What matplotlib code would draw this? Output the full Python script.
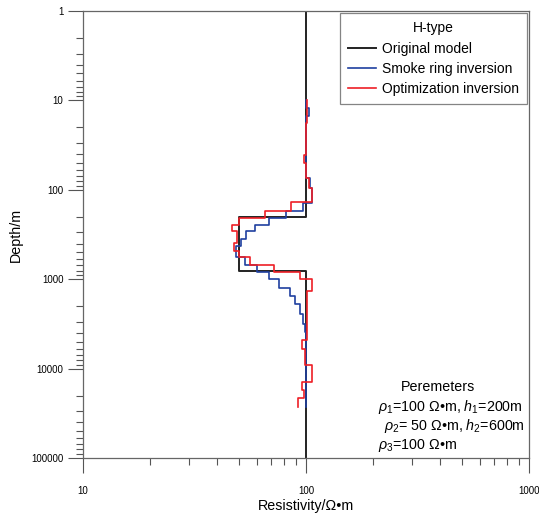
import numpy as np
import matplotlib.pyplot as plt
from matplotlib.ticker import LogLocator, FixedLocator, FixedFormatter, NullFormatter

plt.rcParams['font.family'] = ['Liberation Sans', 'DejaVu Sans']
plt.rcParams['mathtext.fontset'] = 'custom'
plt.rcParams['mathtext.rm'] = 'Liberation Sans'
plt.rcParams['mathtext.it'] = 'Liberation Sans:italic'

# layer boundaries (depth, m) and resistivity of each layer (ohm*m)
model_depth = [1, 200, 800, 100000]
model_rho = [100, 50, 100]

smoke_depth = [10, 12.3, 15, 73, 95, 140, 172, 206, 247, 289, 356, 425, 566,
               697, 834, 1000, 1260, 1560, 1900, 2480, 3140, 3850, 27000]
smoke_rho = [100, 103, 100, 104, 106, 97, 81, 68, 59, 54, 51, 48.5, 53,
             60, 68, 76, 85, 89, 94, 97, 99, 100]

optim_depth = [10, 18, 41, 50, 73, 95, 136, 172, 206, 247, 289, 394, 484, 566,
               697, 834, 1000, 1360, 4840, 5960, 9020, 14000, 17200, 21200, 26700]
optim_rho = [101, 100, 98, 100, 103, 106, 86, 65.5, 50, 46.5, 49, 47.5, 50,
             56, 72, 94, 106, 101, 96, 99, 106, 96, 98, 92]


def steps(depth, rho):
    d = np.asarray(depth, float)
    r = np.asarray(rho, float)
    y = np.repeat(d, 2)[1:-1]
    x = np.repeat(r, 2)
    return x, y


fig = plt.figure(figsize=(5.39, 5.13), dpi=100)
ax = fig.add_axes([83 / 539, 1 - 458 / 513, 446 / 539, 447 / 513])

x, y = steps(model_depth, model_rho)
ax.plot(x, y, color='#222222', lw=1.4, label='Original model', zorder=2)
x, y = steps(smoke_depth, smoke_rho)
ax.plot(x, y, color='#1f3f9f', lw=1.2, label='Smoke ring inversion', zorder=3)
x, y = steps(optim_depth, optim_rho)
ax.plot(x, y, color='#ee1f26', lw=1.2, label='Optimization inversion', zorder=4)

ax.set_xscale('log')
ax.set_yscale('log')
ax.set_xlim(10, 1000)
ax.set_ylim(100000, 1)

ax.xaxis.set_major_locator(FixedLocator([10, 100, 1000]))
ax.xaxis.set_major_formatter(FixedFormatter(['10', '100', '1000']))
ax.xaxis.set_minor_locator(LogLocator(base=10, subs=np.arange(2, 10)))
ax.xaxis.set_minor_formatter(NullFormatter())
ax.yaxis.set_major_locator(FixedLocator([1, 10, 100, 1000, 10000, 100000]))
ax.yaxis.set_major_formatter(FixedFormatter(['1', '10', '100', '1000', '10000', '100000']))
ax.yaxis.set_minor_locator(LogLocator(base=10, subs=np.arange(2, 10)))
ax.yaxis.set_minor_formatter(NullFormatter())

ax.tick_params(which='major', direction='out', length=11, width=0.8, color='#555555',
               labelsize=7, pad=3)
ax.tick_params(which='minor', direction='out', length=5, width=0.8, color='#555555')
ax.tick_params(axis='x', which='major', pad=9)
for s in ax.spines.values():
    s.set_color('#666666')
    s.set_linewidth(0.9)

ax.set_xlabel('Resistivity/Ω•m', fontsize=10.3, labelpad=2)
ax.set_ylabel('Depth/m', fontsize=10.3, labelpad=6)

leg = ax.legend(title='H-type', loc='upper right', fontsize=10, title_fontsize=10,
                fancybox=False, frameon=True, borderaxespad=0.15, handlelength=2.0,
                handletextpad=0.4, labelspacing=0.45, borderpad=0.6)
leg.get_frame().set_edgecolor('#666666')
leg.get_frame().set_linewidth(0.9)

fs = 10.3
ax.text(0.796, 0.159, 'Peremeters', transform=ax.transAxes, fontsize=fs,
        ha='center', va='center')
ax.text(0.661, 0.114, r'$\rho_\mathit{1}$=100 Ω•m, $h_\mathit{1}$=200m',
        transform=ax.transAxes, fontsize=fs, va='center')
ax.text(0.675, 0.072, r'$\rho_\mathit{2}$= 50 Ω•m, $h_\mathit{2}$=600m',
        transform=ax.transAxes, fontsize=fs, va='center')
ax.text(0.661, 0.029, r'$\rho_\mathit{3}$=100 Ω•m', transform=ax.transAxes,
        fontsize=fs, va='center')

fig.savefig('out.png', dpi=100)
